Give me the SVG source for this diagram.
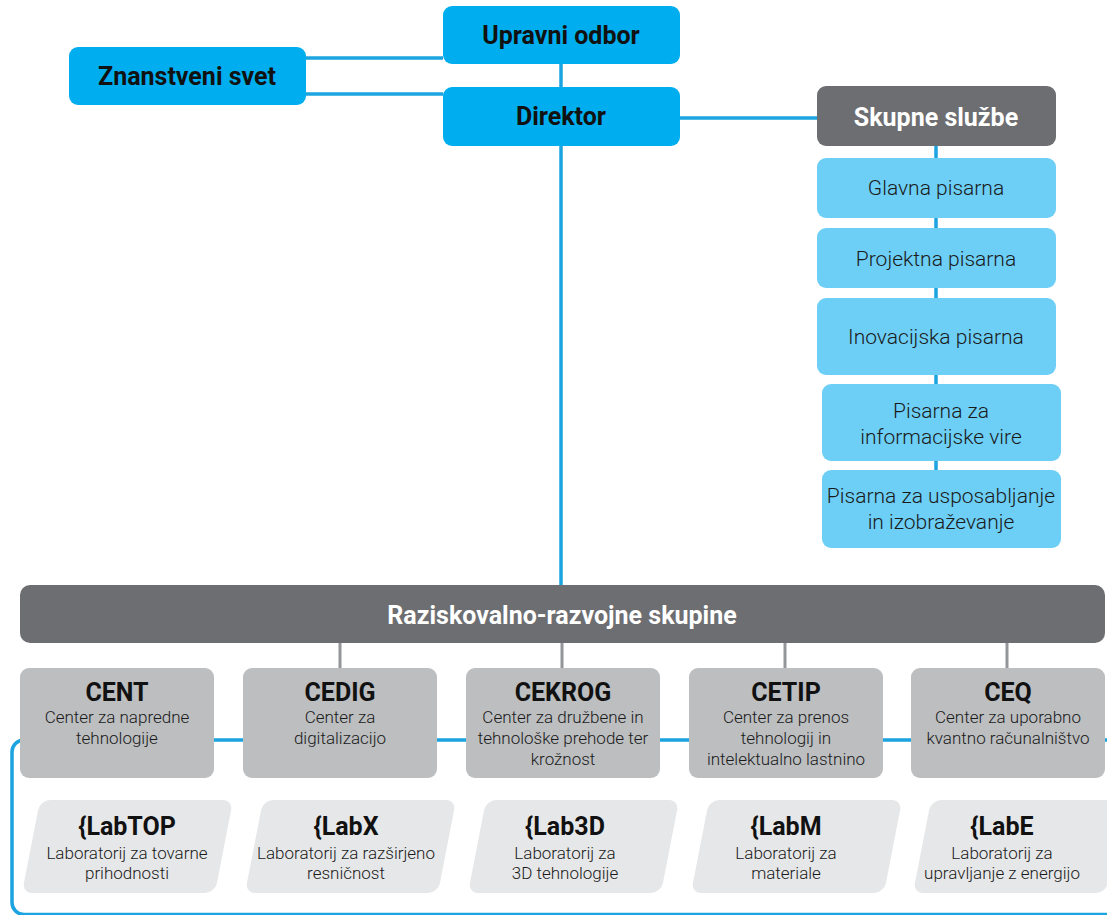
<svg xmlns="http://www.w3.org/2000/svg" width="1107" height="915" viewBox="0 0 1107 915">
<style>
.blue{fill:#00aeef}
.lblue{fill:#6dcff6}
.dgray{fill:#6d6e71}
.cgray{fill:#bcbec0}
.lgray{fill:#e6e7e8}
.cb{stroke:#1ba4e0;stroke-width:3.5;fill:none}
.cg{stroke:#939598;stroke-width:3;fill:none}
.hb{font-family:Roboto,"Liberation Sans",sans-serif;font-weight:700;font-size:25px;text-anchor:middle;fill:#111}
.hw{font-family:Roboto,"Liberation Sans",sans-serif;font-weight:700;font-size:25px;text-anchor:middle;fill:#fff}
.sv{font-family:Roboto,"Liberation Sans",sans-serif;font-weight:300;font-size:21px;text-anchor:middle;fill:#1a1a1a}
.sub{font-family:Roboto,"Liberation Sans",sans-serif;font-weight:300;font-size:17px;text-anchor:middle;fill:#1a1a1a}
</style>
<rect width="1107" height="915" fill="#fff"/>
<g id="connectors">
  <rect class="cb" x="12" y="740" width="1120" height="174.5" rx="12"/>
  <line class="cb" x1="306" y1="58" x2="443" y2="58"/>
  <line class="cb" x1="306" y1="94" x2="443" y2="94"/>
  <line class="cb" x1="561" y1="64" x2="561" y2="87"/>
  <line class="cb" x1="680" y1="118" x2="817" y2="118"/>
  <line class="cb" x1="561" y1="146" x2="561" y2="586"/>
  <line class="cb" x1="936" y1="146" x2="936" y2="470"/>
  <line class="cg" x1="340" y1="643" x2="340" y2="668"/>
  <line class="cg" x1="562" y1="643" x2="562" y2="668"/>
  <line class="cg" x1="785" y1="643" x2="785" y2="668"/>
  <line class="cg" x1="1007" y1="643" x2="1007" y2="668"/>
</g>
<g id="upravni-odbor"><rect class="blue" x="443" y="6" width="237" height="58" rx="9"/><text class="hb" x="561" y="44">Upravni odbor</text></g>
<g id="znanstveni-svet"><rect class="blue" x="69" y="47" width="237" height="58" rx="9"/><text class="hb" x="187" y="85">Znanstveni svet</text></g>
<g id="direktor"><rect class="blue" x="443" y="87" width="237" height="59" rx="9"/><text class="hb" x="561" y="125">Direktor</text></g>
<g id="skupne-sluzbe"><rect class="dgray" x="817" y="86" width="239" height="60" rx="9"/><text class="hw" x="936" y="126">Skupne službe</text></g>
<g id="glavna-pisarna"><rect class="lblue" x="817" y="158" width="239" height="60" rx="9"/><text class="sv" x="936" y="195">Glavna pisarna</text></g>
<g id="projektna-pisarna"><rect class="lblue" x="817" y="228" width="239" height="60" rx="9"/><text class="sv" x="936" y="266">Projektna pisarna</text></g>
<g id="inovacijska-pisarna"><rect class="lblue" x="817" y="298" width="239" height="77" rx="9"/><text class="sv" x="936" y="344">Inovacijska pisarna</text></g>
<g id="pisarna-informacijske"><rect class="lblue" x="822" y="384" width="239" height="77" rx="9"/><text class="sv" x="941" y="418">Pisarna za</text><text class="sv" x="941" y="444">informacijske vire</text></g>
<g id="pisarna-usposabljanje"><rect class="lblue" x="822" y="470" width="239" height="78" rx="9"/><text class="sv" x="941" y="503">Pisarna za usposabljanje</text><text class="sv" x="941" y="529">in izobraževanje</text></g>
<g id="raziskovalno-razvojne"><rect class="dgray" x="20" y="585" width="1085" height="58" rx="10"/><text class="hw" x="562" y="624">Raziskovalno-razvojne skupine</text></g>
<g id="cent"><rect class="cgray" x="20" y="668" width="194" height="110" rx="9"/><text class="hb" x="117" y="701">CENT</text><text class="sub" x="117" y="723">Center za napredne</text><text class="sub" x="117" y="744">tehnologije</text></g>
<g id="cedig"><rect class="cgray" x="243" y="668" width="194" height="110" rx="9"/><text class="hb" x="340" y="701">CEDIG</text><text class="sub" x="340" y="723">Center za</text><text class="sub" x="340" y="744">digitalizacijo</text></g>
<g id="cekrog"><rect class="cgray" x="466" y="668" width="194" height="110" rx="9"/><text class="hb" x="563" y="701">CEKROG</text><text class="sub" x="563" y="723">Center za družbene in</text><text class="sub" x="563" y="744">tehnološke prehode ter</text><text class="sub" x="563" y="765">krožnost</text></g>
<g id="cetip"><rect class="cgray" x="689" y="668" width="194" height="110" rx="9"/><text class="hb" x="786" y="701">CETIP</text><text class="sub" x="786" y="723">Center za prenos</text><text class="sub" x="786" y="744">tehnologij in</text><text class="sub" x="786" y="765">intelektualno lastnino</text></g>
<g id="ceq"><rect class="cgray" x="911" y="668" width="194" height="110" rx="9"/><text class="hb" x="1008" y="701">CEQ</text><text class="sub" x="1008" y="723">Center za uporabno</text><text class="sub" x="1008" y="744">kvantno računalništvo</text></g>
<g id="labtop"><rect class="lgray" transform="translate(22,893) skewX(-11)" x="0" y="-93" width="193" height="93" rx="10"/><text class="hb" x="127" y="835">{LabTOP</text><text class="sub" x="127" y="859">Laboratorij za tovarne</text><text class="sub" x="127" y="879">prihodnosti</text></g>
<g id="labx"><rect class="lgray" transform="translate(245,893) skewX(-11)" x="0" y="-93" width="193" height="93" rx="10"/><text class="hb" x="346" y="835">{LabX</text><text class="sub" x="346" y="859">Laboratorij za razširjeno</text><text class="sub" x="346" y="879">resničnost</text></g>
<g id="lab3d"><rect class="lgray" transform="translate(468,893) skewX(-11)" x="0" y="-93" width="193" height="93" rx="10"/><text class="hb" x="565" y="835">{Lab3D</text><text class="sub" x="565" y="859">Laboratorij za</text><text class="sub" x="565" y="879">3D tehnologije</text></g>
<g id="labm"><rect class="lgray" transform="translate(691,893) skewX(-11)" x="0" y="-93" width="193" height="93" rx="10"/><text class="hb" x="786" y="835">{LabM</text><text class="sub" x="786" y="859">Laboratorij za</text><text class="sub" x="786" y="879">materiale</text></g>
<g id="labe"><rect class="lgray" transform="translate(913,893) skewX(-11)" x="0" y="-93" width="193" height="93" rx="10"/><text class="hb" x="1002" y="835">{LabE</text><text class="sub" x="1002" y="859">Laboratorij za</text><text class="sub" x="1002" y="879">upravljanje z energijo</text></g>
</svg>
